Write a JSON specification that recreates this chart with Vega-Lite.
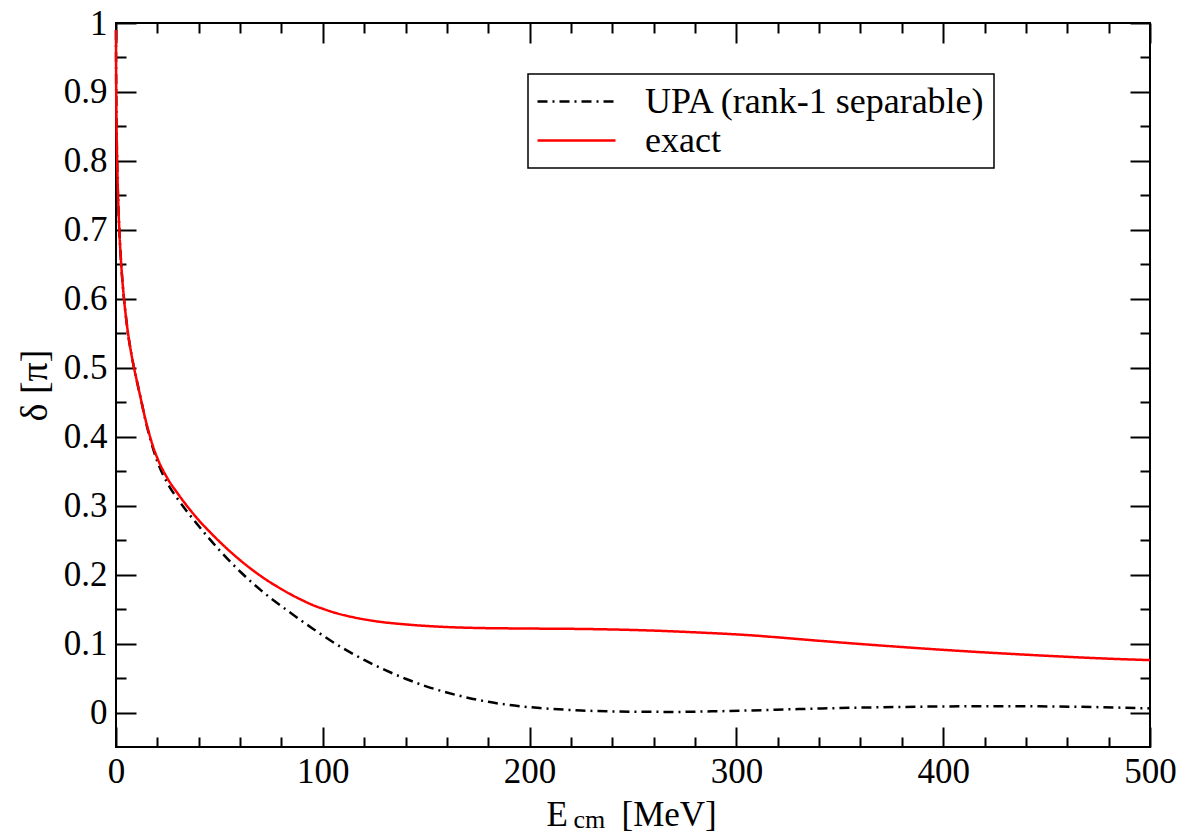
{
  "$schema": "https://vega.github.io/schema/vega-lite/v6.json",
  "width": 1034,
  "height": 724,
  "autosize": {"type": "none"},
  "padding": {"left": 116, "top": 23, "right": 34, "bottom": 88},
  "background": "white",
  "config": {
    "font": "'Liberation Serif', 'Times New Roman', 'DejaVu Serif', serif",
    "view": {"stroke": "black", "strokeWidth": 2},
    "axis": {
      "domain": false,
      "grid": false,
      "tickColor": "black",
      "tickWidth": 2,
      "labelFont": "'Liberation Serif', 'Times New Roman', 'DejaVu Serif', serif",
      "labelFontSize": 35,
      "labelColor": "black",
      "labelFlush": false,
      "labelOverlap": false,
      "titleFont": "'Liberation Serif', 'Times New Roman', 'DejaVu Serif', serif",
      "titleFontWeight": "normal",
      "titleColor": "black"
    },
    "legend": {
      "orient": "none",
      "legendX": 412,
      "legendY": 51,
      "padding": 8,
      "strokeColor": "black",
      "strokeWidth": 1.5,
      "fillColor": "white",
      "symbolType": "stroke",
      "symbolSize": 6084,
      "symbolStrokeWidth": 2.5,
      "clipHeight": 39,
      "rowPadding": 0,
      "labelFont": "'Liberation Serif', 'Times New Roman', 'DejaVu Serif', serif",
      "labelFontSize": 36,
      "labelColor": "black",
      "labelOffset": 28,
      "labelLimit": 600
    }
  },
  "data": {
    "values": [
      {"E": 0, "delta": 0.99, "series": "UPA (rank-1 separable)"},
      {"E": 0.02, "delta": 0.955, "series": "UPA (rank-1 separable)"},
      {"E": 0.05, "delta": 0.93, "series": "UPA (rank-1 separable)"},
      {"E": 0.1, "delta": 0.903, "series": "UPA (rank-1 separable)"},
      {"E": 0.2, "delta": 0.868, "series": "UPA (rank-1 separable)"},
      {"E": 0.3, "delta": 0.843, "series": "UPA (rank-1 separable)"},
      {"E": 0.5, "delta": 0.807, "series": "UPA (rank-1 separable)"},
      {"E": 0.75, "delta": 0.773, "series": "UPA (rank-1 separable)"},
      {"E": 1, "delta": 0.747, "series": "UPA (rank-1 separable)"},
      {"E": 1.6, "delta": 0.7, "series": "UPA (rank-1 separable)"},
      {"E": 2.5, "delta": 0.651, "series": "UPA (rank-1 separable)"},
      {"E": 3.9, "delta": 0.599, "series": "UPA (rank-1 separable)"},
      {"E": 5, "delta": 0.569, "series": "UPA (rank-1 separable)"},
      {"E": 6, "delta": 0.546, "series": "UPA (rank-1 separable)"},
      {"E": 7.3, "delta": 0.522, "series": "UPA (rank-1 separable)"},
      {"E": 8.7, "delta": 0.5, "series": "UPA (rank-1 separable)"},
      {"E": 10, "delta": 0.482, "series": "UPA (rank-1 separable)"},
      {"E": 12, "delta": 0.455, "series": "UPA (rank-1 separable)"},
      {"E": 14, "delta": 0.427, "series": "UPA (rank-1 separable)"},
      {"E": 16, "delta": 0.403, "series": "UPA (rank-1 separable)"},
      {"E": 18, "delta": 0.382, "series": "UPA (rank-1 separable)"},
      {"E": 20, "delta": 0.364, "series": "UPA (rank-1 separable)"},
      {"E": 25, "delta": 0.332, "series": "UPA (rank-1 separable)"},
      {"E": 30, "delta": 0.309, "series": "UPA (rank-1 separable)"},
      {"E": 35, "delta": 0.289, "series": "UPA (rank-1 separable)"},
      {"E": 40, "delta": 0.2705, "series": "UPA (rank-1 separable)"},
      {"E": 45, "delta": 0.2525, "series": "UPA (rank-1 separable)"},
      {"E": 50, "delta": 0.2355, "series": "UPA (rank-1 separable)"},
      {"E": 55, "delta": 0.2195, "series": "UPA (rank-1 separable)"},
      {"E": 60, "delta": 0.2045, "series": "UPA (rank-1 separable)"},
      {"E": 65, "delta": 0.1905, "series": "UPA (rank-1 separable)"},
      {"E": 70, "delta": 0.1775, "series": "UPA (rank-1 separable)"},
      {"E": 75, "delta": 0.1655, "series": "UPA (rank-1 separable)"},
      {"E": 80, "delta": 0.1543, "series": "UPA (rank-1 separable)"},
      {"E": 85, "delta": 0.1433, "series": "UPA (rank-1 separable)"},
      {"E": 90, "delta": 0.1325, "series": "UPA (rank-1 separable)"},
      {"E": 95, "delta": 0.122, "series": "UPA (rank-1 separable)"},
      {"E": 100, "delta": 0.1118, "series": "UPA (rank-1 separable)"},
      {"E": 105, "delta": 0.102, "series": "UPA (rank-1 separable)"},
      {"E": 110, "delta": 0.0928, "series": "UPA (rank-1 separable)"},
      {"E": 115, "delta": 0.0843, "series": "UPA (rank-1 separable)"},
      {"E": 120, "delta": 0.0763, "series": "UPA (rank-1 separable)"},
      {"E": 125, "delta": 0.0688, "series": "UPA (rank-1 separable)"},
      {"E": 130, "delta": 0.0618, "series": "UPA (rank-1 separable)"},
      {"E": 140, "delta": 0.049, "series": "UPA (rank-1 separable)"},
      {"E": 150, "delta": 0.038, "series": "UPA (rank-1 separable)"},
      {"E": 160, "delta": 0.029, "series": "UPA (rank-1 separable)"},
      {"E": 170, "delta": 0.0215, "series": "UPA (rank-1 separable)"},
      {"E": 180, "delta": 0.0155, "series": "UPA (rank-1 separable)"},
      {"E": 190, "delta": 0.011, "series": "UPA (rank-1 separable)"},
      {"E": 205, "delta": 0.0065, "series": "UPA (rank-1 separable)"},
      {"E": 225, "delta": 0.003, "series": "UPA (rank-1 separable)"},
      {"E": 250, "delta": 0.0012, "series": "UPA (rank-1 separable)"},
      {"E": 270, "delta": 0.0009, "series": "UPA (rank-1 separable)"},
      {"E": 290, "delta": 0.0018, "series": "UPA (rank-1 separable)"},
      {"E": 307, "delta": 0.003, "series": "UPA (rank-1 separable)"},
      {"E": 330, "delta": 0.005, "series": "UPA (rank-1 separable)"},
      {"E": 355, "delta": 0.0068, "series": "UPA (rank-1 separable)"},
      {"E": 380, "delta": 0.0081, "series": "UPA (rank-1 separable)"},
      {"E": 403, "delta": 0.0089, "series": "UPA (rank-1 separable)"},
      {"E": 430, "delta": 0.0092, "series": "UPA (rank-1 separable)"},
      {"E": 452, "delta": 0.0088, "series": "UPA (rank-1 separable)"},
      {"E": 475, "delta": 0.0078, "series": "UPA (rank-1 separable)"},
      {"E": 500, "delta": 0.006, "series": "UPA (rank-1 separable)"},
      {"E": 0, "delta": 0.99, "series": "exact"},
      {"E": 0.02, "delta": 0.955, "series": "exact"},
      {"E": 0.05, "delta": 0.93, "series": "exact"},
      {"E": 0.1, "delta": 0.903, "series": "exact"},
      {"E": 0.2, "delta": 0.868, "series": "exact"},
      {"E": 0.3, "delta": 0.843, "series": "exact"},
      {"E": 0.5, "delta": 0.807, "series": "exact"},
      {"E": 0.75, "delta": 0.773, "series": "exact"},
      {"E": 1, "delta": 0.747, "series": "exact"},
      {"E": 1.6, "delta": 0.7, "series": "exact"},
      {"E": 2.5, "delta": 0.651, "series": "exact"},
      {"E": 3.9, "delta": 0.599, "series": "exact"},
      {"E": 5, "delta": 0.569, "series": "exact"},
      {"E": 6, "delta": 0.546, "series": "exact"},
      {"E": 7.3, "delta": 0.522, "series": "exact"},
      {"E": 8.7, "delta": 0.5, "series": "exact"},
      {"E": 10, "delta": 0.482, "series": "exact"},
      {"E": 12, "delta": 0.455, "series": "exact"},
      {"E": 14, "delta": 0.428, "series": "exact"},
      {"E": 16, "delta": 0.405, "series": "exact"},
      {"E": 18, "delta": 0.385, "series": "exact"},
      {"E": 20, "delta": 0.369, "series": "exact"},
      {"E": 25, "delta": 0.339, "series": "exact"},
      {"E": 30, "delta": 0.317, "series": "exact"},
      {"E": 35, "delta": 0.297, "series": "exact"},
      {"E": 40, "delta": 0.279, "series": "exact"},
      {"E": 45, "delta": 0.263, "series": "exact"},
      {"E": 50, "delta": 0.248, "series": "exact"},
      {"E": 55, "delta": 0.234, "series": "exact"},
      {"E": 60, "delta": 0.221, "series": "exact"},
      {"E": 65, "delta": 0.209, "series": "exact"},
      {"E": 70, "delta": 0.198, "series": "exact"},
      {"E": 75, "delta": 0.188, "series": "exact"},
      {"E": 80, "delta": 0.179, "series": "exact"},
      {"E": 85, "delta": 0.1705, "series": "exact"},
      {"E": 90, "delta": 0.163, "series": "exact"},
      {"E": 95, "delta": 0.156, "series": "exact"},
      {"E": 100, "delta": 0.1505, "series": "exact"},
      {"E": 105, "delta": 0.1455, "series": "exact"},
      {"E": 115, "delta": 0.138, "series": "exact"},
      {"E": 125, "delta": 0.1327, "series": "exact"},
      {"E": 140, "delta": 0.1278, "series": "exact"},
      {"E": 155, "delta": 0.1247, "series": "exact"},
      {"E": 175, "delta": 0.1226, "series": "exact"},
      {"E": 200, "delta": 0.1218, "series": "exact"},
      {"E": 230, "delta": 0.121, "series": "exact"},
      {"E": 258, "delta": 0.119, "series": "exact"},
      {"E": 280, "delta": 0.1163, "series": "exact"},
      {"E": 307, "delta": 0.112, "series": "exact"},
      {"E": 330, "delta": 0.1065, "series": "exact"},
      {"E": 355, "delta": 0.1005, "series": "exact"},
      {"E": 380, "delta": 0.095, "series": "exact"},
      {"E": 403, "delta": 0.0903, "series": "exact"},
      {"E": 430, "delta": 0.0855, "series": "exact"},
      {"E": 452, "delta": 0.082, "series": "exact"},
      {"E": 475, "delta": 0.0787, "series": "exact"},
      {"E": 500, "delta": 0.076, "series": "exact"}
    ]
  },
  "resolve": {"axis": {"x": "independent", "y": "independent"}},
  "layer": [
    {
      "transform": [{"filter": "datum.series === 'UPA (rank-1 separable)'"}],
      "mark": {"type": "line", "strokeWidth": 2.5, "interpolate": "monotone"},
      "encoding": {
        "x": {
          "field": "E", "type": "quantitative",
          "scale": {"domain": [0, 500], "nice": false, "zero": false},
          "axis": {
            "orient": "bottom", "values": [0, 100, 200, 300, 400, 500],
            "tickSize": -20, "labelPadding": 27, "format": "d",
            "title": "E", "titleFontSize": 35, "titleX": 430, "titleY": 78,
            "titleAlign": "left", "titleBaseline": "alphabetic"
          }
        },
        "y": {
          "field": "delta", "type": "quantitative",
          "scale": {"domain": [-0.05, 1], "nice": false, "zero": false},
          "axis": {
            "orient": "left", "values": [0, 0.1, 0.2, 0.3, 0.4, 0.5, 0.6, 0.7, 0.8, 0.9, 1],
            "tickSize": -20, "labelPadding": 29, "format": "~g",
            "title": "δ [π]", "titleFontSize": 38, "titleX": -62, "titleY": 362,
            "titleAngle": 270, "titleAlign": "center", "titleBaseline": "bottom"
          }
        },
        "color": {
          "field": "series", "type": "nominal",
          "scale": {"domain": ["UPA (rank-1 separable)", "exact"], "range": ["black", "#ff0000"]},
          "legend": {"title": null}
        },
        "strokeDash": {
          "field": "series", "type": "nominal",
          "scale": {"domain": ["UPA (rank-1 separable)", "exact"], "range": [[10, 5, 2, 5], [1, 0]]},
          "legend": {"title": null}
        }
      }
    },
    {
      "transform": [{"filter": "datum.series === 'exact'"}],
      "mark": {"type": "line", "strokeWidth": 2.5, "interpolate": "monotone"},
      "encoding": {
        "x": {
          "field": "E", "type": "quantitative",
          "axis": {
            "orient": "top", "values": [0, 100, 200, 300, 400, 500],
            "tickSize": -20, "labels": false,
            "title": "[MeV]", "titleFontSize": 35, "titleX": 505, "titleY": 802,
            "titleAlign": "left", "titleBaseline": "alphabetic"
          }
        },
        "y": {
          "field": "delta", "type": "quantitative",
          "axis": {
            "orient": "right", "values": [0, 0.1, 0.2, 0.3, 0.4, 0.5, 0.6, 0.7, 0.8, 0.9, 1],
            "tickSize": -20, "labels": false, "title": null
          }
        },
        "color": {"field": "series", "type": "nominal", "legend": {"title": null}},
        "strokeDash": {"field": "series", "type": "nominal", "legend": {"title": null}}
      }
    },
    {
      "mark": {"type": "line", "opacity": 0},
      "encoding": {
        "detail": {"field": "series", "type": "nominal"},
        "x": {
          "field": "E", "type": "quantitative",
          "axis": {
            "orient": "bottom",
            "values": [20, 40, 60, 80, 120, 140, 160, 180, 220, 240, 260, 280, 320, 340, 360, 380, 420, 440, 460, 480],
            "tickSize": -10, "labels": false,
            "title": "cm", "titleFontSize": 26, "titleX": 457, "titleY": 80,
            "titleAlign": "left", "titleBaseline": "alphabetic"
          }
        },
        "y": {
          "field": "delta", "type": "quantitative",
          "axis": {
            "orient": "left",
            "values": [0.05, 0.15, 0.25, 0.35, 0.45, 0.55, 0.65, 0.75, 0.85, 0.95],
            "tickSize": -10, "labels": false, "title": null
          }
        }
      }
    },
    {
      "mark": {"type": "line", "opacity": 0},
      "encoding": {
        "detail": {"field": "series", "type": "nominal"},
        "x": {
          "field": "E", "type": "quantitative",
          "axis": {
            "orient": "top",
            "values": [20, 40, 60, 80, 120, 140, 160, 180, 220, 240, 260, 280, 320, 340, 360, 380, 420, 440, 460, 480],
            "tickSize": -10, "labels": false, "title": null
          }
        },
        "y": {
          "field": "delta", "type": "quantitative",
          "axis": {
            "orient": "right",
            "values": [0.05, 0.15, 0.25, 0.35, 0.45, 0.55, 0.65, 0.75, 0.85, 0.95],
            "tickSize": -10, "labels": false, "title": null
          }
        }
      }
    }
  ]
}
